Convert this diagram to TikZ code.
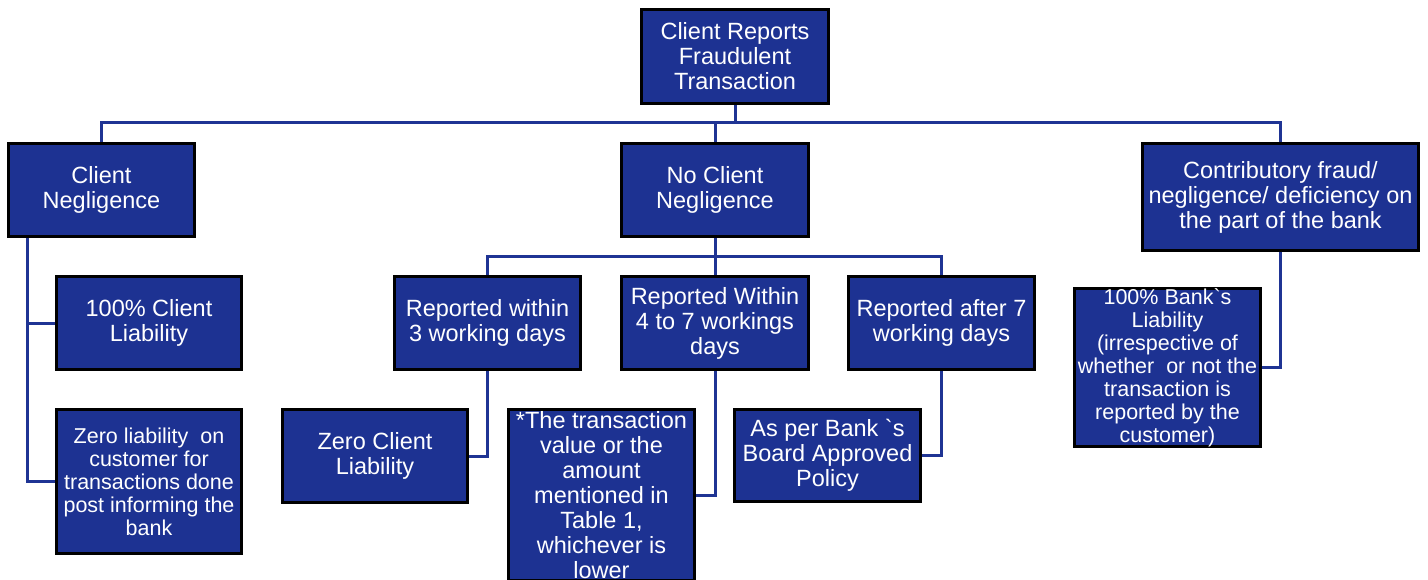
\documentclass[tikz,border=0pt]{standalone}
\usepackage{fontspec}
\setmainfont{Liberation Sans}
\definecolor{boxblue}{RGB}{29,50,146}
\definecolor{lineblue}{RGB}{31,52,148}
\begin{document}
\begin{tikzpicture}[x=1pt,y=-1pt,
  box/.style={draw=black, line width=3pt, fill=boxblue, text=white, align=center, inner sep=0pt,
    font=\fontsize{23.5}{25}\selectfont},
  small/.style={font=\fontsize{21.5}{23}\selectfont},
  conn/.style={draw=lineblue, line width=3pt}]
\clip (0,0) rectangle (1428,580);
\fill[white] (0,0) rectangle (1428,580);
% boxes
\node[box, minimum width=187, minimum height=94] (top) at (735,56.5) {Client Reports\\Fraudulent\\Transaction};
\node[box, minimum width=186, minimum height=93] (cn) at (101.5,190) {Client\\Negligence};
\node[box, minimum width=187, minimum height=93] (ncn) at (715,190) {No Client\\Negligence};
\node[box, minimum width=276, minimum height=107] (contrib) at (1280.5,197) {Contributory fraud/\\negligence/ deficiency on\\the part of the bank};
\node[box, minimum width=185, minimum height=93] (c100) at (149,323) {100\% Client\\Liability};
\node[box, small, minimum width=185, minimum height=144] (zero) at (149,481.5) {Zero liability\ \ on\\customer for\\transactions done\\post informing the\\bank};
\node[box, minimum width=186, minimum height=93] (r3) at (487.5,323) {Reported within\\3 working days};
\node[box, minimum width=187, minimum height=93] (r47) at (715,323) {Reported Within\\4 to 7 workings\\days};
\node[box, minimum width=186, minimum height=93] (r7) at (941.5,323) {Reported after 7\\working days};
\node[box, minimum width=185, minimum height=93] (zcl) at (375,456) {Zero Client\\Liability};
\node[box, minimum width=186, minimum height=171] (tv) at (601.5,495) {*The transaction\\value or the\\amount\\mentioned in\\Table 1,\\whichever is\\lower};
\node[box, minimum width=186, minimum height=92] (apb) at (827.5,455.5) {As per Bank \textasciigrave s\\Board Approved\\Policy};
\node[box, small, minimum width=186, minimum height=156] (b100) at (1167.5,367.5) {100\% Bank\textasciigrave s\\Liability\\(irrespective of\\whether\ \ or not the\\transaction is\\reported by the\\customer)};
% bus coordinates
\coordinate (bus1) at (0,123);
\coordinate (bus2) at (0,257);
\coordinate (cnx) at (27,238);
% connectors
\draw[conn] (top.south) -- (top.south |- bus1);
\draw[conn] (cn.north) -- (cn.north |- bus1) -| (contrib.north);
\draw[conn] (ncn.north) -- (ncn.north |- bus1);
\draw[conn] (cnx) |- (c100.west);
\draw[conn] (cnx) |- (zero.west);
\draw[conn] (ncn.south) -- (ncn.south |- bus2);
\draw[conn] (r3.north) -- (r3.north |- bus2) -| (r7.north);
\draw[conn] (r47.north) -- (r47.north |- bus2);
\draw[conn] (r3.south) |- (zcl.east);
\draw[conn] (r47.south) |- (tv.east);
\draw[conn] (r7.south) |- (apb.east);
\draw[conn] (contrib.south) |- (b100.east);
\end{tikzpicture}
\end{document}
